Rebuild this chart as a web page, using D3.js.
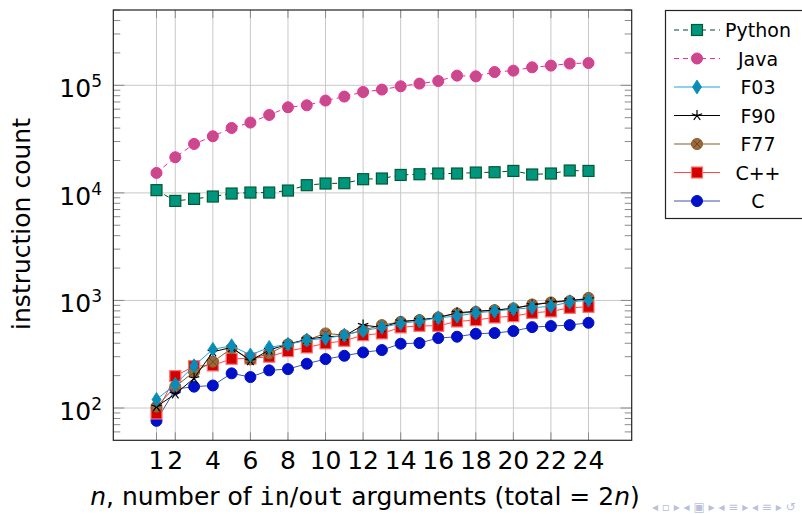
<!DOCTYPE html>
<html>
  <head>
    <meta charset="utf-8">
    <script src="https://d3js.org/d3.v7.min.js"></script>
    <style>
      body { margin: 0; background: #fff; }
      svg { font-family: "DejaVu Sans", sans-serif; }
      .tick-label { font-size: 25px; fill: #000; }
      .legend { font-size: 19px; fill: #000; text-anchor: middle; }
      .grid line { stroke: #c8c8c8; stroke-width: 1px; }
    </style>
  </head>
  <body>
    <svg width="802" height="514"></svg>
    <script>

    // ---- data ----
    var n = [1, 2, 3, 4, 5, 6, 7, 8, 9, 10, 11, 12, 13, 14, 15, 16, 17, 18, 19, 20, 21, 22, 23, 24];
    var xTicks = [1, 2, 4, 6, 8, 10, 12, 14, 16, 18, 20, 22, 24];
    var yTicks = [100, 1000, 10000, 100000];

    var python = [10600, 8420, 8790, 9250, 9860, 10070, 10070, 10510, 11790, 12220, 12300, 13400,
                  13600, 14680, 14900, 15130, 15130, 15450, 15560, 16000, 14820, 15130, 16140, 16000];
    var java   = [15330, 21440, 28500, 33600, 40120, 45040, 52990, 62470, 65200, 72100, 78530, 86660,
                  91200, 97900, 103700, 109600, 123000, 121200, 132900, 136900, 147000, 152400, 159100, 161100];
    var f03    = [120, 166, 247, 351, 379, 311, 366, 391, 428, 444, 476, 523,
                  562, 612, 643, 690, 715, 767, 794, 831, 854, 885, 965, 1007];
    var f90    = [103, 135, 189, 333, 366, 275, 346, 393, 435, 460, 467, 590,
                  562, 638, 657, 695, 767, 794, 813, 844, 906, 959, 1007, 1023];
    var f77    = [103, 158, 217, 269, 358, 283, 322, 391, 428, 494, 476, 530,
                  590, 633, 657, 695, 757, 784, 813, 844, 919, 959, 986, 1058];
    var cpp    = [89, 198, 245, 249, 287, 289, 300, 338, 366, 399, 422, 476,
                  494, 562, 581, 581, 638, 657, 695, 715, 767, 791, 854, 873];
    var c      = [76, 150, 158, 162, 210, 194, 224, 230, 258, 285, 306, 329,
                  346, 396, 402, 447, 460, 490, 498, 519, 565, 578, 590, 620];

    var legendOrder = ["Python", "Java", "F03", "F90", "F77", "C++", "C"];

    var series = [
      {name: "Python", values: python, line: "#004d26", dash: "5,4", mark: "square", fill: "#00957f", stroke: "#005c2e", size: 11},
      {name: "Java",   values: java,   line: "#ec2f96", dash: "5,4", mark: "circle", fill: "#c94a8c", stroke: "#ec2f96", size: 11},
      {name: "F03",    values: f03,    line: "#1ea3e0", dash: null,  mark: "diamond", fill: "#0a8cb8", stroke: "#0a8cb8", size: 12},
      {name: "F90",    values: f90,    line: "#000000", dash: null,  mark: "star", fill: "none", stroke: "#000", size: 11},
      {name: "F77",    values: f77,    line: "#8a5a2a", dash: null,  mark: "otimes", fill: "#9a6a3c", stroke: "#6a4020", size: 11},
      {name: "C++",    values: cpp,    line: "#ff4848", dash: null,  mark: "square", fill: "#d40000", stroke: "#ff7070", size: 11},
      {name: "C",      values: c,      line: "#3a56aa", dash: null,  mark: "circle", fill: "#0010c8", stroke: "#0010c8", size: 11}
    ];

    var svg = d3.select("svg");
    svg.append("rect").attr("width", 802).attr("height", 514).attr("fill", "#fff");

    var x = d3.scaleLinear().domain([-1.3, 26.3]).range([113.3, 631.7]),
        y = d3.scaleLog().domain([Math.pow(10, 1.7), Math.pow(10, 5.7)]).range([440.3, 10]);

    var x0 = x.range()[0], x1 = x.range()[1], yb = y.range()[0], yt = y.range()[1];

    // grid
    var grid = svg.append("g").attr("class", "grid");
    grid.selectAll(".vx").data(xTicks).enter().append("line")
        .attr("x1", function(d) { return x(d); }).attr("x2", function(d) { return x(d); })
        .attr("y1", yt).attr("y2", yb);
    grid.selectAll(".hy").data(yTicks).enter().append("line")
        .attr("x1", x0).attr("x2", x1)
        .attr("y1", function(d) { return y(d); }).attr("y2", function(d) { return y(d); });

    // minor / major ticks on y (inside, both sides)
    var minor = [];
    [10, 100, 1000, 10000, 100000].forEach(function(dec) {
      for (var k = 2; k <= 9; k++) {
        var v = dec * k;
        if (v > y.domain()[0] && v < y.domain()[1]) minor.push(v);
      }
    });
    var ticks = svg.append("g").attr("stroke", "#8a8a8a").attr("stroke-width", 1);
    [[x0, 1], [x1, -1]].forEach(function(side) {
      ticks.selectAll(null).data(minor).enter().append("line")
          .attr("x1", side[0]).attr("x2", side[0] + side[1] * 7)
          .attr("y1", function(d) { return y(d); }).attr("y2", function(d) { return y(d); });
      ticks.selectAll(null).data(yTicks).enter().append("line")
          .attr("x1", side[0]).attr("x2", side[0] + side[1] * 11)
          .attr("y1", function(d) { return y(d); }).attr("y2", function(d) { return y(d); });
    });
    [[yb, -1], [yt, 1]].forEach(function(side) {
      ticks.selectAll(null).data(xTicks).enter().append("line")
          .attr("x1", function(d) { return x(d); }).attr("x2", function(d) { return x(d); })
          .attr("y1", side[0]).attr("y2", side[0] + side[1] * 8);
    });

    // frame
    svg.append("rect")
        .attr("x", x0).attr("y", yt).attr("width", x1 - x0).attr("height", yb - yt)
        .attr("fill", "none").attr("stroke", "#222").attr("stroke-width", 1.2);

    // tick labels
    svg.selectAll(".xl").data(xTicks).enter().append("text")
        .attr("class", "tick-label")
        .attr("x", function(d) { return x(d); })
        .attr("y", 469)
        .attr("text-anchor", "middle")
        .text(function(d) { return d; });

    var yl = svg.selectAll(".yl").data(yTicks).enter().append("text")
        .attr("class", "tick-label")
        .attr("x", 102)
        .attr("y", function(d) { return y(d) + 12; })
        .attr("text-anchor", "end");
    yl.append("tspan").text("10");
    yl.append("tspan").attr("dy", -10).style("font-size", "17px")
        .text(function(d) { return Math.round(Math.log10(d)); });

    // axis titles
    svg.append("text")
        .attr("transform", "translate(30,224) rotate(-90)")
        .attr("text-anchor", "middle")
        .style("font-size", "25px")
        .text("instruction count");

    var xt = svg.append("text")
        .attr("x", 365).attr("y", 505)
        .attr("text-anchor", "middle")
        .style("font-size", "25px");
    xt.append("tspan").style("font-style", "italic").text("n");
    xt.append("tspan").text(", number of ");
    xt.append("tspan").style("font-family", "DejaVu Sans Mono").text("in");
    xt.append("tspan").text("/");
    xt.append("tspan").style("font-family", "DejaVu Sans Mono").text("out");
    xt.append("tspan").text(" arguments (total = 2");
    xt.append("tspan").style("font-style", "italic").text("n");
    xt.append("tspan").text(")");

    // markers
    function drawMark(g, s, cx, cy) {
      var h = s.size / 2;
      if (s.mark === "square") {
        g.append("rect").attr("x", cx - h).attr("y", cy - h).attr("width", s.size).attr("height", s.size)
         .attr("fill", s.fill).attr("stroke", s.stroke).attr("stroke-width", 1.2);
      } else if (s.mark === "circle") {
        g.append("circle").attr("cx", cx).attr("cy", cy).attr("r", h)
         .attr("fill", s.fill).attr("stroke", s.stroke).attr("stroke-width", 1);
      } else if (s.mark === "diamond") {
        g.append("path")
         .attr("d", "M" + cx + "," + (cy - h - 1) + "L" + (cx + h - 1.5) + "," + cy + "L" + cx + "," + (cy + h + 1) + "L" + (cx - h + 1.5) + "," + cy + "Z")
         .attr("fill", s.fill).attr("stroke", s.stroke).attr("stroke-width", 0.8);
      } else if (s.mark === "star") {
        var p = "";
        for (var k = 0; k < 5; k++) {
          var a = -Math.PI / 2 + k * 2 * Math.PI / 5;
          p += "M" + cx + "," + cy + "L" + (cx + h * Math.cos(a)) + "," + (cy + h * Math.sin(a));
        }
        g.append("path").attr("d", p).attr("stroke", s.stroke).attr("stroke-width", 1.2).attr("fill", "none");
      } else if (s.mark === "otimes") {
        g.append("circle").attr("cx", cx).attr("cy", cy).attr("r", h)
         .attr("fill", s.fill).attr("stroke", "#8a5a2a").attr("stroke-width", 1);
        var r = h * 0.7;
        g.append("path")
         .attr("d", "M" + (cx - r) + "," + (cy - r) + "L" + (cx + r) + "," + (cy + r) + "M" + (cx - r) + "," + (cy + r) + "L" + (cx + r) + "," + (cy - r))
         .attr("stroke", s.stroke).attr("stroke-width", 0.9);
      }
    }

    var line = d3.line()
        .x(function(d, i) { return x(n[i]); })
        .y(function(d) { return y(d); });

    // drawing order: C first, F03 / Java / Python last
    var plot = svg.append("g");
    series.slice().reverse().forEach(function(s) {
      var g = plot.append("g");
      g.append("path")
        .attr("d", line(s.values))
        .attr("fill", "none")
        .attr("stroke", s.line)
        .attr("stroke-width", 1)
        .attr("stroke-dasharray", s.dash);
      s.values.forEach(function(v, i) { drawMark(g, s, x(n[i]), y(v)); });
    });

    // legend
    var lg = svg.append("g");
    lg.append("rect").attr("x", 665.5).attr("y", 10.5).attr("width", 150).attr("height", 208)
      .attr("fill", "#fff").attr("stroke", "#222").attr("stroke-width", 1.2);
    legendOrder.forEach(function(name, i) {
      var s = series.filter(function(d) { return d.name === name; })[0];
      var ly = 30 + i * 28.5;
      var row = lg.append("g");
      row.append("line").attr("x1", 674).attr("x2", 720).attr("y1", ly).attr("y2", ly)
        .attr("stroke", s.line).attr("stroke-width", 1.2).attr("stroke-dasharray", s.dash);
      drawMark(row, s, 697, ly);
      row.append("text").attr("class", "legend").attr("x", 758).attr("y", ly + 7).text(name);
    });

    // faint beamer navigation symbols (kept clear of the axis title)
    svg.append("text")
        .attr("x", 652).attr("y", 511)
        .style("font-size", "12px").attr("fill", "#b9bfdc")
        .text("◂ ▫ ▸ ◂ ▣ ▸ ◂ ≡ ▸ ◂ ≡ ▸ ↺");

    </script>
  </body>
</html>
